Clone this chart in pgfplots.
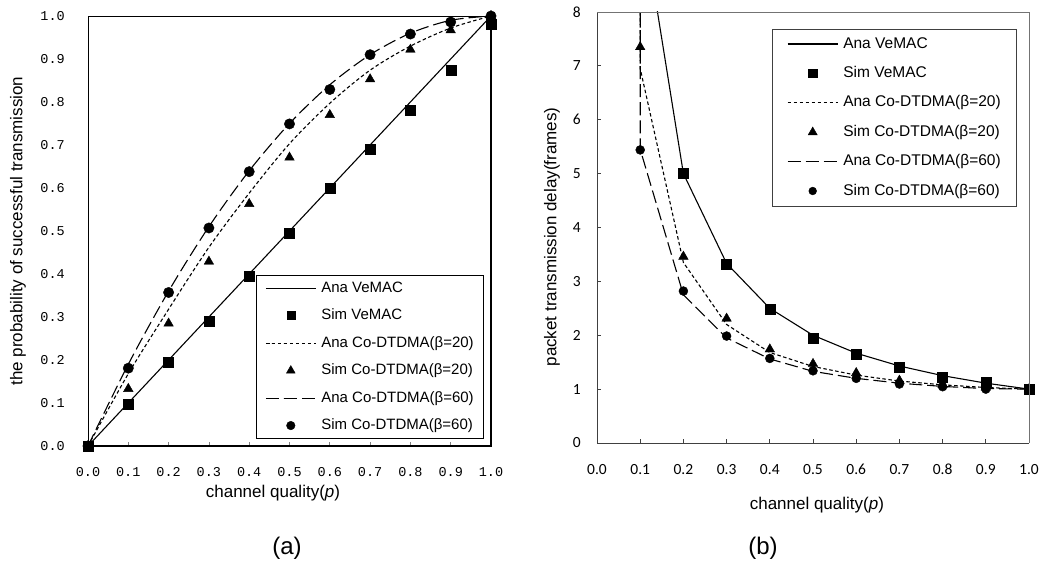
\documentclass[border=0pt]{standalone}
\usepackage{fontspec}
\setmainfont{Liberation Sans}
\newfontfamily\monof{Liberation Mono}
\newfontfamily\calib{Carlito}
\usepackage{pgfplots}
\pgfplotsset{compat=1.18}
\pgfplotsset{
  myleg/.style={legend image code/.code={\draw[mark repeat=2,mark phase=2,##1] plot coordinates {(0pt,0pt) (25pt,0pt) (50pt,0pt)};}},
}
\begin{document}
\begin{tikzpicture}[x=1pt,y=1pt]
% ---------------- (a) ----------------
\begin{axis}[
  at={(88pt,123pt)}, anchor=south west, width=403pt, height=430pt, scale only axis,
  xmin=0, xmax=1, ymin=0, ymax=1, clip mode=individual,
  axis line style={line width=0.8pt},
  xtick={0,0.1,0.2,0.3,0.4,0.5,0.6,0.7,0.8,0.9,1},
  xticklabels={0.0,0.1,0.2,0.3,0.4,0.5,0.6,0.7,0.8,0.9,1.0},
  ytick={0,0.1,0.2,0.3,0.4,0.5,0.6,0.7,0.8,0.9,1},
  yticklabels={0.0,0.1,0.2,0.3,0.4,0.5,0.6,0.7,0.8,0.9,1.0},
  xtick pos=bottom, ytick pos=left, ytick style={draw=none},
  major tick length=4pt, tick style={line width=0.8pt},
  xticklabel style={font=\monof\fontsize{13.5}{15}\selectfont, inner sep=0pt, yshift=-21pt},
  yticklabel style={font=\monof\fontsize{13.5}{15}\selectfont, inner sep=0pt, xshift=-23pt},
  xlabel={channel quality(\textit{p})}, ylabel={the probability of successful transmission},
  xlabel style={font=\fontsize{17}{19}\selectfont, at={(axis description cs:0.459,-0.109)}, anchor=center},
  ylabel style={font=\fontsize{17}{19}\selectfont, at={(axis description cs:-0.174,0.5)}, anchor=center},
  myleg,
  legend cell align=left,
  legend style={at={(rel axis cs:0.417,0.398)}, anchor=north west, draw=black,
    font=\fontsize{15}{17}\selectfont, inner xsep=9pt, inner ysep=6pt,
    row sep=13.5pt, column sep=5pt,
    nodes={inner sep=0pt, text height=11pt, text depth=3pt}},
]
\addplot[black, line width=1.1pt] coordinates {(0,0)(0.1,0.1)(0.2,0.2)(0.3,0.3)(0.4,0.4)(0.5,0.5)(0.6,0.6)(0.7,0.7)(0.8,0.8)(0.9,0.9)(1,1)};
\addlegendentry{Ana VeMAC}
\addplot[black, only marks, mark=square*, mark size=5pt, legend image post style={mark size=3.9pt}] coordinates {(0,0)(0.1,0.097)(0.2,0.196)(0.3,0.291)(0.4,0.394)(0.5,0.494)(0.6,0.600)(0.7,0.691)(0.8,0.782)(0.9,0.874)(1.0,0.981)};
\addlegendentry{Sim VeMAC}
\addplot[black, line width=1.1pt, smooth, dash pattern=on 3.5pt off 2.5pt] coordinates {(0,0)(0.1,0.168)(0.2,0.318)(0.3,0.462)(0.4,0.588)(0.5,0.703)(0.6,0.797)(0.7,0.874)(0.8,0.930)(0.9,0.972)(1,1)};
\addlegendentry{Ana Co-DTDMA(β=20)}
\addplot[black, only marks, mark=triangle*, mark size=5.5pt, legend image post style={mark size=5pt}] coordinates {(0,0)(0.1,0.133)(0.2,0.285)(0.3,0.429)(0.4,0.563)(0.5,0.671)(0.6,0.770)(0.7,0.853)(0.8,0.922)(0.9,0.967)(1,1.0)};
\addlegendentry{Sim Co-DTDMA(β=20)}
\addplot[black, line width=1.1pt, smooth, dash pattern=on 13pt off 5pt] coordinates {(0,0)(0.1,0.19)(0.2,0.36)(0.3,0.51)(0.4,0.64)(0.5,0.75)(0.6,0.84)(0.7,0.91)(0.8,0.96)(0.9,0.99)(1,1)};
\addlegendentry{Ana Co-DTDMA(β=60)}
\addplot[black, only marks, mark=*, mark size=5.2pt, legend image post style={mark size=4.3pt}] coordinates {(0,0)(0.1,0.181)(0.2,0.357)(0.3,0.507)(0.4,0.638)(0.5,0.749)(0.6,0.829)(0.7,0.910)(0.8,0.958)(0.9,0.986)(1,1.0)};
\addlegendentry{Sim Co-DTDMA(β=60)}
\draw[black, line width=2.2pt] (rel axis cs:0,0) -- (rel axis cs:1,0) -- (rel axis cs:1,1);
\end{axis}
% ---------------- (b) ----------------
\begin{axis}[
  at={(597pt,126pt)}, anchor=south west, width=432pt, height=431pt, scale only axis,
  xmin=0, xmax=1, ymin=0, ymax=8, clip mode=individual,
  axis lines*=left, axis line style={black!75, line width=0.8pt},
  xtick={0,0.1,0.2,0.3,0.4,0.5,0.6,0.7,0.8,0.9,1},
  xticklabels={0.0,0.1,0.2,0.3,0.4,0.5,0.6,0.7,0.8,0.9,1.0},
  ytick={0,1,2,3,4,5,6,7,8},
  yticklabels={0,1,2,3,4,5,6,7,8},
  major tick length=4pt, tick style={black!75, line width=0.8pt}, tick align=inside,
  xticklabel style={font=\calib\fontsize{15.5}{17}\selectfont, inner sep=0pt, yshift=-21pt},
  yticklabel style={font=\calib\fontsize{15.5}{17}\selectfont, inner sep=0pt, xshift=-16pt},
  xlabel={channel quality(\textit{p})}, ylabel={packet transmission delay(frames)},
  xlabel style={font=\fontsize{17}{19}\selectfont, at={(axis description cs:0.509,-0.144)}, anchor=center},
  ylabel style={font=\fontsize{17}{19}\selectfont, at={(axis description cs:-0.104,0.478)}, anchor=center},
  myleg,
  legend cell align=left,
  legend style={at={(rel axis cs:0.405,0.961)}, anchor=north west, draw=black!75,
    font=\fontsize{15.5}{17}\selectfont, inner xsep=15pt, inner ysep=8pt,
    row sep=15.4pt, column sep=5pt,
    nodes={inner sep=0pt, text height=11pt, text depth=3pt}},
]
\addplot[black, line width=1.1pt] coordinates {(0.1,10)(0.2,5)(0.3,3.333)(0.4,2.5)(0.5,2)(0.6,1.667)(0.7,1.429)(0.8,1.25)(0.9,1.111)(1,1)};
\addlegendentry{Ana VeMAC}
\addplot[black, only marks, mark=square*, mark size=5pt, legend image post style={mark size=4.2pt}] coordinates {(0.2,5.0)(0.3,3.31)(0.4,2.48)(0.5,1.95)(0.6,1.65)(0.7,1.40)(0.8,1.22)(0.9,1.12)(1,1.0)};
\addlegendentry{Sim VeMAC}
\addplot[black, line width=1.1pt, dash pattern=on 3.5pt off 2.5pt] coordinates {(0.1,10)(0.1,6.95)(0.2,3.35)(0.3,2.2)(0.4,1.68)(0.5,1.42)(0.6,1.26)(0.7,1.15)(0.8,1.08)(0.9,1.03)(1,1.0)};
\addlegendentry{Ana Co-DTDMA(β=20)}
\addplot[black, only marks, mark=triangle*, mark size=5.5pt, legend image post style={mark size=5.2pt}] coordinates {(0.1,7.35)(0.2,3.46)(0.3,2.31)(0.4,1.74)(0.5,1.47)(0.6,1.30)(0.7,1.16)(0.8,1.08)(0.9,1.03)(1,1.0)};
\addlegendentry{Sim Co-DTDMA(β=20)}
\addplot[black, line width=1.1pt, dash pattern=on 13pt off 5pt] coordinates {(0.1,10)(0.1,5.45)(0.2,2.75)(0.3,1.95)(0.4,1.56)(0.5,1.33)(0.6,1.2)(0.7,1.11)(0.8,1.05)(0.9,1.01)(1,1.0)};
\addlegendentry{Ana Co-DTDMA(β=60)}
\addplot[black, only marks, mark=*, mark size=4.5pt, legend image post style={mark size=3.9pt}] coordinates {(0.1,5.44)(0.2,2.82)(0.3,1.985)(0.4,1.57)(0.5,1.34)(0.6,1.20)(0.7,1.095)(0.8,1.045)(0.9,1.0)(1,1.0)};
\addlegendentry{Sim Co-DTDMA(β=60)}
\draw[black!55, line width=0.8pt] (rel axis cs:0,1) -- (rel axis cs:1,1) -- (rel axis cs:1,0);
\end{axis}
\node[font=\fontsize{24}{26}\selectfont] at (287,21) {(a)};
\node[font=\fontsize{24}{26}\selectfont] at (763,21) {(b)};
\pgfresetboundingbox
\path (0,0) rectangle (1039,569);
\end{tikzpicture}
\end{document}
